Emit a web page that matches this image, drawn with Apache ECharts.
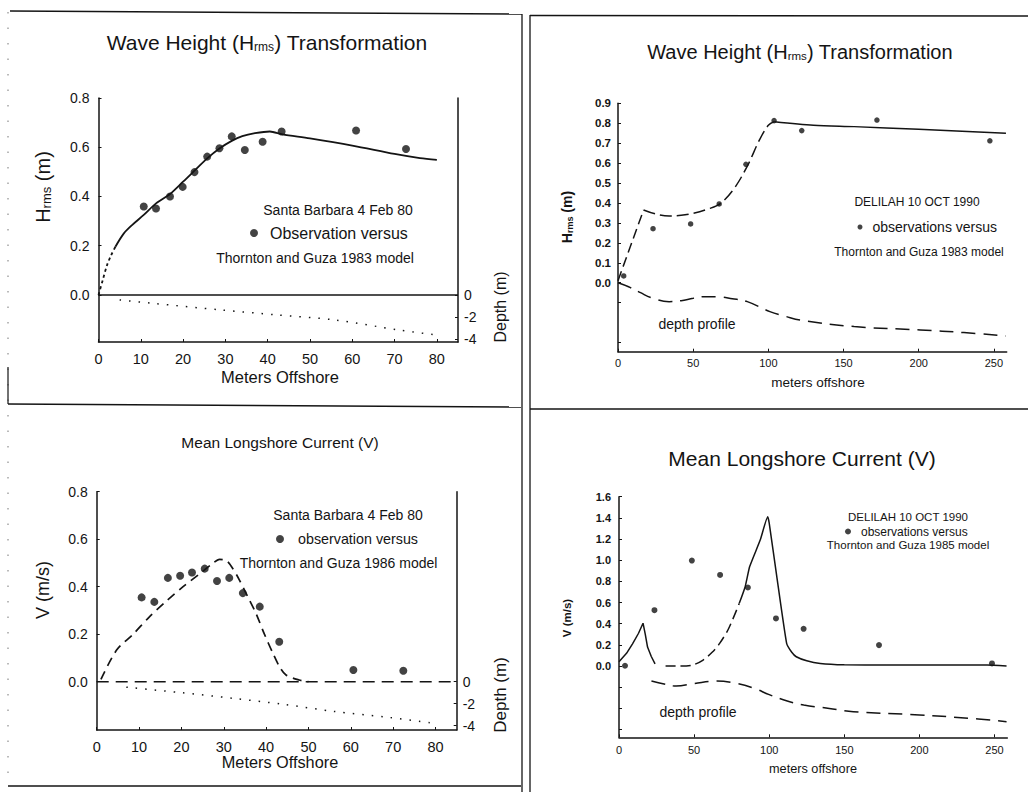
<!DOCTYPE html>
<html>
<head>
<meta charset="utf-8">
<script src="https://cdn.jsdelivr.net/npm/echarts@6/dist/echarts.min.js"></script>
<style>html,body{margin:0;padding:0;background:#fff;}#c{width:1028px;height:792px;}</style>
</head>
<body>
<div id="c"></div>
<script>
// ---------- Panel 1: Santa Barbara wave height ----------
const p1ObsX = [10.7, 13.6, 16.9, 19.9, 22.7, 25.7, 28.6, 31.5, 34.6, 38.8, 43.3, 60.9, 72.7];
const p1ObsH = [0.359, 0.351, 0.40, 0.439, 0.499, 0.562, 0.596, 0.644, 0.589, 0.622, 0.664, 0.668, 0.593];
const p1ModelStartX = [0, 1, 2, 3, 4];
const p1ModelStartH = [0, 0.06, 0.12, 0.162, 0.196];
const p1ModelX = [4, 6, 8, 10.7, 13.6, 16.9, 20, 23, 25.7, 28.6, 31.5, 34, 37, 40.5, 43.5, 50, 60, 70, 76, 80];
const p1ModelH = [0.196, 0.25, 0.285, 0.325, 0.372, 0.41, 0.46, 0.51, 0.555, 0.595, 0.626, 0.645, 0.657, 0.664, 0.652, 0.636, 0.607, 0.573, 0.556, 0.549];
const p1DepthX = [5, 13, 29, 42, 56, 71, 80];
const p1Depth = [-0.45, -0.76, -1.36, -1.8, -2.27, -3.18, -3.64];
const p1ZeroX = [0, 85];
const p1ZeroH = [0, 0];
const p1XTicks = [0, 10, 20, 30, 40, 50, 60, 70, 80];
const p1YTicks = [0, 0.2, 0.4, 0.6, 0.8];
const p1DepthTicks = [0, -2, -4];

// ---------- Panel 2: DELILAH wave height ----------
const p2ObsX = [3.8, 23.3, 48.3, 67.3, 85.1, 103.8, 122.2, 172.2, 247.3];
const p2ObsH = [0.034, 0.271, 0.295, 0.395, 0.594, 0.813, 0.763, 0.816, 0.712];
const p2ModelAX = [0, 17];
const p2ModelAH = [0.01, 0.365];
const p2ModelBX = [17, 25, 34, 42, 50, 60, 68, 77, 86, 94, 100, 104];
const p2ModelBH = [0.365, 0.345, 0.335, 0.338, 0.348, 0.37, 0.397, 0.47, 0.585, 0.715, 0.79, 0.808];
const p2ModelCX = [104, 130, 157, 200, 258];
const p2ModelCH = [0.808, 0.79, 0.783, 0.77, 0.75];
const p2DepthX = [0, 7, 15, 22, 34, 42, 50, 58, 66, 76, 86, 101, 112, 121, 157, 201, 230, 258];
const p2Depth = [0, -0.02, -0.05, -0.075, -0.095, -0.09, -0.078, -0.07, -0.07, -0.08, -0.095, -0.145, -0.17, -0.187, -0.22, -0.237, -0.25, -0.267];
const p2XTicks = [0, 50, 100, 150, 200, 250];
const p2YLabels = [0, 0.1, 0.2, 0.3, 0.4, 0.5, 0.6, 0.7, 0.8, 0.9];
const p2YTicks = [-0.3, -0.1, 0, 0.1, 0.2, 0.3, 0.4, 0.5, 0.6, 0.7, 0.8, 0.9];

// ---------- Panel 3: Santa Barbara longshore current ----------
const p3ObsX = [10.6, 13.6, 16.8, 19.7, 22.5, 25.5, 28.4, 31.3, 34.5, 38.5, 43.1, 60.6, 72.4];
const p3ObsV = [0.355, 0.336, 0.437, 0.446, 0.46, 0.476, 0.424, 0.437, 0.373, 0.316, 0.168, 0.049, 0.046];
const p3ModelX = [1, 4.7, 8.6, 12.5, 16.5, 20.4, 24, 27.4, 29, 30.6, 32, 33.7, 35.6, 37.6, 39.6, 41.6, 43.2, 44.7, 47.8, 50];
const p3ModelV = [0.01, 0.133, 0.2, 0.274, 0.34, 0.4, 0.45, 0.498, 0.515, 0.51, 0.48, 0.428, 0.36, 0.288, 0.2, 0.12, 0.062, 0.028, 0.007, 0.0];
const p3ZeroX = [0, 85];
const p3ZeroV = [0, 0];
const p3DepthX = [7, 20, 32, 44, 56, 68, 79];
const p3Depth = [-0.5, -1.0, -1.5, -2.05, -2.7, -3.2, -3.75];
const p3XTicks = [0, 10, 20, 30, 40, 50, 60, 70, 80];
const p3YTicks = [0, 0.2, 0.4, 0.6, 0.8];
const p3DepthTicks = [0, -2, -4];

// ---------- Panel 4: DELILAH longshore current ----------
const p4ObsX = [4.0, 23.6, 48.5, 67.3, 85.8, 104.5, 122.9, 173.1, 248.3];
const p4ObsV = [0.003, 0.528, 0.997, 0.861, 0.742, 0.45, 0.352, 0.198, 0.025];
const p4ModelAX = [0, 5, 9, 13, 16, 17.5, 19, 21.5, 24];
const p4ModelAV = [0.04, 0.12, 0.21, 0.31, 0.405, 0.3, 0.18, 0.09, 0.02];
const p4ModelBX = [31, 40, 49, 56, 62, 67, 73, 80];
const p4ModelBV = [0.0, 0.0, 0.01, 0.057, 0.13, 0.214, 0.355, 0.59];
const p4ModelCX = [80, 84, 87, 94, 99, 100, 105, 111.6, 115, 118, 125, 134, 150, 178, 245, 258];
const p4ModelCV = [0.59, 0.75, 0.94, 1.19, 1.41, 1.35, 0.85, 0.214, 0.13, 0.088, 0.05, 0.025, 0.012, 0.009, 0.009, 0.0];
const p4DepthX = [21.6, 30, 38, 50, 65, 78, 90, 100, 112, 123, 140, 156, 200, 230, 258];
const p4Depth = [-0.142, -0.17, -0.189, -0.165, -0.142, -0.163, -0.21, -0.27, -0.33, -0.368, -0.40, -0.431, -0.462, -0.49, -0.525];
const p4XTicks = [0, 50, 100, 150, 200, 250];
const p4YLabels = [0, 0.2, 0.4, 0.6, 0.8, 1.0, 1.2, 1.4, 1.6];
const p4YTicks = [-0.6, -0.4, -0.2, 0, 0.2, 0.4, 0.6, 0.8, 1.0, 1.2, 1.4, 1.6];

// ---------- helpers ----------
const FONT = "'Liberation Sans', Arial, Helvetica, sans-serif";
const INK = '#141414';
const zip = (xs, ys) => xs.map((x, i) => [x, ys[i]]);

function xAx(grid, max, ticks, fs, margin) {
  return {
    type: 'value', gridIndex: grid, min: 0, max: max,
    axisLine: { show: true, onZero: false, lineStyle: { color: INK, width: 1.5 } },
    axisTick: { show: true, inside: true, length: 3, customValues: ticks, lineStyle: { color: INK } },
    axisLabel: { customValues: ticks, fontSize: fs, color: INK, fontFamily: FONT, margin: margin },
    splitLine: { show: false }
  };
}
function yAx(grid, min, max, labels, ticks, fs, margin, fw, pos, fmt) {
  return {
    type: 'value', gridIndex: grid, min: min, max: max, position: pos || 'left',
    axisLine: { show: true, onZero: false, lineStyle: { color: INK, width: 1.5 } },
    axisTick: { show: true, inside: true, length: 3, customValues: ticks, lineStyle: { color: INK } },
    axisLabel: { customValues: labels, fontSize: fs, color: INK, fontFamily: FONT, margin: margin,
                 fontWeight: fw || 'normal', formatter: fmt || (v => v.toFixed(1)) },
    splitLine: { show: false }
  };
}
function line(xi, yi, xs, ys, type, width, smooth) {
  return { type: 'line', xAxisIndex: xi, yAxisIndex: yi, data: zip(xs, ys), showSymbol: false,
           smooth: smooth === undefined ? 0.3 : smooth, silent: true,
           lineStyle: { color: INK, width: width, type: type } };
}
function dots(xi, yi, xs, ys, size, name) {
  return { type: 'scatter', name: name, xAxisIndex: xi, yAxisIndex: yi, data: zip(xs, ys),
           symbolSize: size, itemStyle: { color: INK } };
}
function txt(x, y, text, size, opt) {
  opt = opt || {};
  const st = { text: text, x: 0, y: 0, fill: INK, fontSize: size, fontFamily: FONT,
               fontWeight: opt.weight || 'normal',
               align: 'center', verticalAlign: 'middle', textAlign: 'center', textVerticalAlign: 'middle' };
  if (opt.rich) st.rich = opt.rich;
  return { type: 'text', x: x, y: y, rotation: opt.rot || 0, silent: true, style: st };
}
function subRich(big, small, weight) {
  return {
    n: { fontSize: big, fontFamily: FONT, fill: INK, color: INK, fontWeight: weight || 'normal' },
    s: { fontSize: small, fontFamily: FONT, fill: INK, color: INK, verticalAlign: 'bottom', fontWeight: weight || 'normal' }
  };
}
function seg(x1, y1, x2, y2, w, dash, col) {
  return { type: 'line', silent: true, shape: { x1: x1, y1: y1, x2: x2, y2: y2 },
           style: { stroke: col || INK, lineWidth: w, lineDash: dash || null } };
}
function legend(left, top, name, size, fs, pad) {
  return { left: left, top: top, padding: 0, itemWidth: size, itemHeight: size, icon: 'circle',
           selectedMode: false, data: [name],
           textStyle: { fontSize: fs, color: INK, fontFamily: FONT, padding: [0, 0, 0, pad] } };
}

const R = Math.PI / 2;
const option = {
  animation: false,
  backgroundColor: '#ffffff',
  grid: [
    { left: 98.5, top: 98, width: 359.5, height: 244 },
    { left: 618, top: 103.3, width: 388.7, height: 248.4 },
    { left: 96.7, top: 491.7, width: 360, height: 238.3 },
    { left: 619, top: 496.7, width: 388.3, height: 240.6 }
  ],
  xAxis: [
    xAx(0, 85, p1XTicks, 14.5, 9),
    xAx(1, 258.5, p2XTicks, 11, 6),
    xAx(2, 85, p3XTicks, 14.5, 9),
    xAx(3, 258.5, p4XTicks, 11, 7)
  ],
  yAxis: [
    yAx(0, -0.191, 0.8, p1YTicks, p1YTicks, 14, 9),
    yAx(0, -4.27, 17.9, p1DepthTicks, p1DepthTicks, 14, 6, 'normal', 'right', v => String(v)),
    yAx(1, -0.346, 0.9, p2YLabels, p2YTicks, 11.5, 7, 'bold'),
    yAx(2, -0.2034, 0.8, p3YTicks, p3YTicks, 14, 9),
    yAx(2, -4.39, 17.27, p3DepthTicks, p3DepthTicks, 14, 6, 'normal', 'right', v => String(v)),
    yAx(3, -0.673, 1.6, p4YLabels, p4YTicks, 11, 8, 'bold')
  ],
  legend: [
    legend(250, 225, 'Observation versus', 8, 16, 7),
    legend(857.5, 220, 'observations versus', 5, 14, 5),
    legend(276, 532, 'observation versus', 8, 14.3, 9),
    legend(845, 525.5, 'observations versus', 6, 12, 5)
  ],
  series: [
    // panel 1
    line(0, 1, p1DepthX, p1Depth, [1.5, 8], 1.5, 0.3),
    line(0, 0, p1ZeroX, p1ZeroH, 'solid', 1.6, false),
    line(0, 0, p1ModelStartX, p1ModelStartH, [3, 3], 1.8, 0.3),
    line(0, 0, p1ModelX, p1ModelH, 'solid', 1.8, 0.3),
    dots(0, 0, p1ObsX, p1ObsH, 8, 'Observation versus'),
    // panel 2
    line(1, 2, p2DepthX, p2Depth, [14, 8], 1.5, 0.4),
    line(1, 2, p2ModelAX, p2ModelAH, [10, 5], 1.5, false),
    line(1, 2, p2ModelBX, p2ModelBH, [12, 5], 1.5, 0.35),
    line(1, 2, p2ModelCX, p2ModelCH, 'solid', 1.5, 0.3),
    dots(1, 2, p2ObsX, p2ObsH, 5.5, 'observations versus'),
    // panel 3
    line(2, 4, p3DepthX, p3Depth, [1.5, 8], 1.5, 0.3),
    line(2, 3, p3ZeroX, p3ZeroV, [12, 7], 1.4, false),
    line(2, 3, p3ModelX, p3ModelV, [9, 6], 1.7, 0.3),
    dots(2, 3, p3ObsX, p3ObsV, 8, 'observation versus'),
    // panel 4
    line(3, 5, p4DepthX, p4Depth, [14, 8], 1.5, 0.4),
    line(3, 5, p4ModelAX, p4ModelAV, 'solid', 1.5, false),
    line(3, 5, p4ModelBX, p4ModelBV, [10, 5], 1.5, 0.3),
    line(3, 5, p4ModelCX, p4ModelCV, 'solid', 1.5, 0.15),
    dots(3, 5, p4ObsX, p4ObsV, 6, 'observations versus')
  ],
  graphic: [
    // frame lines
    seg(10, 11, 522, 14, 1.5),
    seg(522, 14, 522, 792, 1.3),
    seg(8, 404, 521, 407, 1.5),
    seg(8, 786, 521, 786, 1.5),
    seg(530, 15.5, 1028, 16, 1.5),
    seg(530, 15, 530, 792, 1.3),
    seg(530, 409, 1028, 409, 1.5),
    seg(8, 12, 8, 786, 1, [1.5, 14], '#777'),
    seg(8, 367, 8, 404, 1.2),
    // titles
    txt(267, 42, '{n|Wave Height (H}{s|rms}{n|) Transformation}', 21, { rich: subRich(21, 12) }),
    txt(800, 52, '{n|Wave Height (H}{s|rms}{n|) Transformation}', 20, { rich: subRich(20, 11.5) }),
    txt(280, 442, 'Mean Longshore Current (V)', 15.5),
    txt(802, 458, 'Mean Longshore Current (V)', 21),
    // axis names
    txt(43, 187, '{n|H}{s|rms}{n| (m)}', 20, { rot: R, rich: subRich(20, 13) }),
    txt(500, 307, 'Depth (m)', 16, { rot: R }),
    txt(280, 377, 'Meters Offshore', 16.5),
    txt(567, 217, '{n|H}{s|rms}{n| (m)}', 14, { rot: R, rich: subRich(14, 9, 'bold'), weight: 'bold' }),
    txt(818, 382, 'meters offshore', 13.5),
    txt(43, 590, 'V (m/s)', 18, { rot: R }),
    txt(500, 695, 'Depth (m)', 17, { rot: R }),
    txt(280, 762, 'Meters Offshore', 16.3),
    txt(567, 618, 'V (m/s)', 11.5, { rot: R, weight: 'bold' }),
    txt(813, 769, 'meters offshore', 12.7),
    // annotations
    txt(338, 210, 'Santa Barbara 4 Feb 80', 14),
    txt(315, 258, 'Thornton and Guza 1983 model', 14),
    txt(917, 202, 'DELILAH 10 OCT 1990', 12),
    txt(919, 252, 'Thornton and Guza 1983 model', 12),
    txt(697, 324, 'depth profile', 14),
    txt(348, 515, 'Santa Barbara 4 Feb 80', 14),
    txt(338.5, 563, 'Thornton and Guza 1986 model', 14),
    txt(908, 517, 'DELILAH 10 OCT 1990', 11.5),
    txt(908, 545, 'Thornton and Guza 1985 model', 11.5),
    txt(698, 712, 'depth profile', 14)
  ]
};

const chart = echarts.init(document.getElementById('c'), null, { renderer: 'svg', width: 1028, height: 792 });
chart.setOption(option);
</script>
</body>
</html>
